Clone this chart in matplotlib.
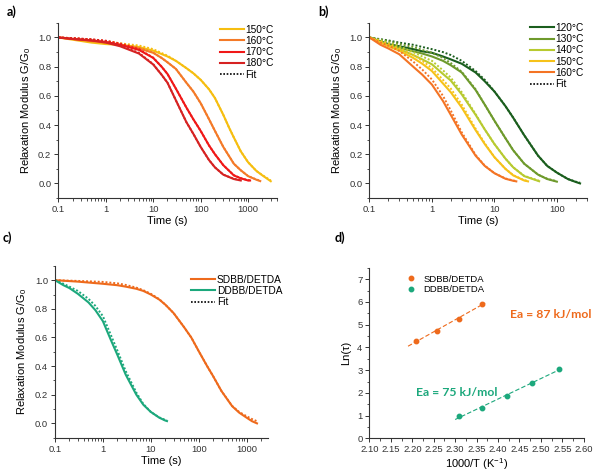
import numpy as np
import matplotlib
matplotlib.use("Agg")
import matplotlib.pyplot as plt
from matplotlib.ticker import MultipleLocator, LogLocator, NullFormatter, FixedLocator, FixedFormatter

plt.rcParams['font.family'] = ['Liberation Sans', 'DejaVu Sans']

# ---- panel a: stress relaxation at 150-180 C ----
a_labels = ['150°C', '160°C', '170°C', '180°C']
a_colors = ['#F6BE10', '#F47A28', '#F01818', '#D62222']
a_t = [
    [0.1, 0.2, 0.5, 1, 2, 5, 10, 20, 30, 50, 70, 100, 150, 200, 300, 400, 500, 700, 1000, 1500, 2000, 3000],
    [0.1, 0.2, 0.5, 1, 2, 5, 10, 15, 20, 30, 50, 70, 100, 150, 200, 300, 500, 700, 1000, 1500, 1800],
    [0.1, 0.2, 0.5, 1, 2, 5, 10, 15, 20, 30, 50, 70, 100, 150, 200, 300, 500, 700, 1000, 1100],
    [0.1, 0.2, 0.5, 1, 2, 5, 10, 15, 20, 30, 50, 70, 100, 150, 200, 300, 500, 700],
]
a_g = [
    [1.0, 0.985, 0.965, 0.955, 0.95, 0.935, 0.91, 0.87, 0.84, 0.79, 0.755, 0.71, 0.645, 0.585, 0.47, 0.38, 0.315, 0.22, 0.145, 0.085, 0.055, 0.015],
    [1.0, 0.99, 0.975, 0.965, 0.95, 0.925, 0.895, 0.86, 0.83, 0.785, 0.69, 0.63, 0.55, 0.44, 0.36, 0.25, 0.135, 0.09, 0.05, 0.025, 0.016],
    [1.0, 0.99, 0.98, 0.97, 0.95, 0.915, 0.86, 0.80, 0.75, 0.65, 0.52, 0.44, 0.36, 0.26, 0.20, 0.125, 0.055, 0.035, 0.02, 0.02],
    [1.0, 0.99, 0.98, 0.965, 0.94, 0.89, 0.815, 0.745, 0.69, 0.57, 0.42, 0.34, 0.25, 0.16, 0.11, 0.06, 0.03, 0.02],
]
a_fit = [
    [1.0, 0.995, 0.985, 0.975, 0.96, 0.945, 0.92, 0.875, 0.84, 0.79, 0.755, 0.71, 0.645, 0.585, 0.47, 0.38, 0.315, 0.22, 0.145, 0.085, 0.057, 0.02],
    [1.0, 0.995, 0.985, 0.975, 0.96, 0.93, 0.897, 0.86, 0.83, 0.785, 0.69, 0.63, 0.55, 0.44, 0.36, 0.25, 0.135, 0.09, 0.05, 0.027, 0.018],
    [1.0, 0.995, 0.987, 0.978, 0.958, 0.92, 0.862, 0.80, 0.75, 0.65, 0.52, 0.44, 0.36, 0.26, 0.20, 0.125, 0.056, 0.036, 0.022, 0.022],
    [1.0, 0.995, 0.987, 0.975, 0.948, 0.895, 0.817, 0.745, 0.69, 0.57, 0.42, 0.34, 0.25, 0.16, 0.11, 0.06, 0.032, 0.022],
]

# ---- panel b: stress relaxation at 120-160 C ----
b_labels = ['120°C', '130°C', '140°C', '150°C', '160°C']
b_colors = ['#1B5E1E', '#6E9A2C', '#B8CA30', '#F6C21A', '#F47424']
b_t = [
    [0.1, 0.2, 0.3, 0.5, 0.7, 1, 1.5, 2, 3, 5, 7, 10, 15, 20, 30, 50, 70, 100, 150, 200, 235],
    [0.1, 0.2, 0.3, 0.5, 0.7, 1, 1.5, 2, 3, 5, 7, 10, 15, 20, 30, 50, 70, 100],
    [0.1, 0.2, 0.3, 0.5, 0.7, 1, 1.5, 2, 3, 5, 7, 10, 15, 20, 30, 52],
    [0.1, 0.2, 0.3, 0.5, 0.7, 1, 1.5, 2, 3, 5, 7, 10, 15, 20, 30, 34.5],
    [0.1, 0.15, 0.2, 0.3, 0.5, 0.7, 1, 1.5, 2, 3, 5, 7, 10, 15, 20, 22.4],
]
b_g = [
    [1.0, 0.955, 0.94, 0.92, 0.905, 0.895, 0.87, 0.85, 0.82, 0.76, 0.70, 0.63, 0.53, 0.45, 0.33, 0.19, 0.12, 0.074, 0.03, 0.01, 0.0],
    [1.0, 0.95, 0.93, 0.905, 0.89, 0.87, 0.84, 0.81, 0.76, 0.64, 0.54, 0.43, 0.31, 0.227, 0.135, 0.06, 0.03, 0.012],
    [1.0, 0.945, 0.92, 0.88, 0.85, 0.816, 0.75, 0.705, 0.61, 0.47, 0.37, 0.27, 0.17, 0.11, 0.05, 0.015],
    [1.0, 0.94, 0.91, 0.86, 0.82, 0.77, 0.685, 0.625, 0.52, 0.365, 0.27, 0.18, 0.10, 0.055, 0.02, 0.014],
    [1.0, 0.95, 0.925, 0.885, 0.80, 0.745, 0.677, 0.565, 0.47, 0.335, 0.19, 0.12, 0.07, 0.032, 0.018, 0.014],
]
b_fit = [
    [1.0, 0.98, 0.965, 0.95, 0.935, 0.92, 0.90, 0.88, 0.84, 0.77, 0.71, 0.63, 0.53, 0.45, 0.33, 0.19, 0.12, 0.074, 0.03, 0.012, 0.005],
    [1.0, 0.975, 0.955, 0.935, 0.915, 0.895, 0.86, 0.825, 0.765, 0.645, 0.54, 0.43, 0.31, 0.227, 0.135, 0.06, 0.032, 0.015],
    [1.0, 0.965, 0.94, 0.90, 0.87, 0.84, 0.775, 0.725, 0.625, 0.475, 0.37, 0.27, 0.17, 0.11, 0.052, 0.018],
    [1.0, 0.955, 0.925, 0.88, 0.84, 0.79, 0.71, 0.65, 0.54, 0.375, 0.275, 0.18, 0.10, 0.057, 0.022, 0.018],
    [1.0, 0.965, 0.945, 0.908, 0.835, 0.78, 0.712, 0.60, 0.50, 0.35, 0.195, 0.122, 0.07, 0.034, 0.02, 0.016],
]

# ---- panel c: SDBB vs DDBB ----
c_labels = ['SDBB/DETDA', 'DDBB/DETDA']
c_colors = ['#EE6A1C', '#1CA87C']
c_t = [
    [0.1, 0.3, 1, 2, 3, 5, 7, 10, 15, 20, 30, 50, 70, 100, 150, 200, 300, 500, 700, 1000, 1300, 1650],
    [0.1, 0.15, 0.2, 0.3, 0.5, 0.7, 1, 1.5, 2, 3, 5, 7, 10, 15, 20, 21.8],
]
c_g = [
    [1.0, 0.99, 0.975, 0.965, 0.955, 0.94, 0.925, 0.90, 0.865, 0.83, 0.77, 0.67, 0.60, 0.505, 0.40, 0.33, 0.225, 0.12, 0.075, 0.04, 0.015, 0.0],
    [1.0, 0.965, 0.945, 0.905, 0.845, 0.79, 0.714, 0.575, 0.48, 0.34, 0.20, 0.13, 0.08, 0.04, 0.02, 0.016],
]
c_fit = [
    [1.0, 0.995, 0.988, 0.978, 0.967, 0.948, 0.93, 0.905, 0.868, 0.83, 0.77, 0.67, 0.60, 0.505, 0.40, 0.33, 0.225, 0.122, 0.08, 0.05, 0.03, 0.015],
    [1.0, 0.975, 0.955, 0.925, 0.87, 0.82, 0.749, 0.61, 0.51, 0.365, 0.215, 0.135, 0.08, 0.042, 0.024, 0.02],
]

# ---- panel d: Arrhenius ----
d_x = [[2.208, 2.257, 2.309, 2.363], [2.309, 2.363, 2.42, 2.48, 2.543]]
d_y = [[4.28, 4.73, 5.27, 5.92], [0.975, 1.35, 1.86, 2.42, 3.07]]
d_fit_range = [[2.19, 2.37], [2.30, 2.55]]
d_text = ['Ea = 87 kJ/mol', 'Ea = 75 kJ/mol']

fig = plt.figure(figsize=(5.95, 4.72), dpi=100)
ax_a = fig.add_axes([0.098, 0.5805, 0.367, 0.371])
ax_b = fig.add_axes([0.621, 0.5805, 0.365, 0.371])
ax_c = fig.add_axes([0.0924, 0.0727, 0.358, 0.364])
ax_d = fig.add_axes([0.621, 0.0714, 0.360, 0.361])


def style_axes(ax):
    for s in ['top', 'right']:
        ax.spines[s].set_visible(False)
    for s in ['left', 'bottom']:
        ax.spines[s].set_linewidth(0.8)
        ax.spines[s].set_color('#333333')
    ax.tick_params(which='both', direction='out', labelsize=6.8, colors='#333333', pad=2)
    ax.tick_params(which='major', length=3, width=0.7)
    ax.tick_params(which='minor', length=1.8, width=0.6)


def relax_axes(ax, xmax, xticks):
    ax.set_xscale('log')
    ax.set_xlim(0.1, xmax)
    ax.set_ylim(-0.1, 1.1)
    ax.xaxis.set_major_locator(FixedLocator(xticks))
    ax.xaxis.set_major_formatter(FixedFormatter([('%g' % v) for v in xticks]))
    ax.xaxis.set_minor_locator(LogLocator(base=10, subs=np.arange(2, 10)))
    ax.xaxis.set_minor_formatter(NullFormatter())
    ax.yaxis.set_major_locator(FixedLocator([0, 0.2, 0.4, 0.6, 0.8, 1.0]))
    ax.yaxis.set_major_formatter(FixedFormatter(['0.0', '0.2', '0.4', '0.6', '0.8', '1.0']))
    ax.yaxis.set_minor_locator(MultipleLocator(0.1))
    ax.set_xlabel('Time (s)', fontsize=8, labelpad=1.5)
    ax.set_ylabel('Relaxation Modulus G/G$_\\mathregular{0}$', fontsize=8, labelpad=4)
    style_axes(ax)


def relax_panel(ax, ts, gs, fits, colors, labels, anchor):
    for t, g, f, c, lab in zip(ts, gs, fits, colors, labels):
        ax.plot(t, g, color=c, lw=1.5, label=lab)
        ax.plot(t, f, color=c, lw=1.4, ls=(0, (1, 1)))
    ax.plot([], [], color='k', lw=1.2, ls=(0, (1, 1)), label='Fit')
    ax.legend(loc='upper right', bbox_to_anchor=anchor, frameon=False, fontsize=7.3,
              handlelength=2.3, handletextpad=0.2, labelspacing=0.12, borderpad=0.2)


relax_panel(ax_a, a_t, a_g, a_fit, a_colors, a_labels, (1.02, 1.03))
relax_axes(ax_a, 4000, [0.1, 1, 10, 100, 1000])

relax_panel(ax_b, b_t, b_g, b_fit, b_colors, b_labels, (1.02, 1.04))
relax_axes(ax_b, 300, [0.1, 1, 10, 100])

relax_panel(ax_c, c_t, c_g, c_fit, c_colors, c_labels, (1.1, 0.99))
relax_axes(ax_c, 2800, [0.1, 1, 10, 100, 1000])

# Arrhenius plot
for x, y, c, lab, rng in zip(d_x, d_y, c_colors, c_labels, d_fit_range):
    ax_d.plot(x, y, 'o', color=c, ms=3.2, label=lab)
    k, b = np.polyfit(x, y, 1)
    xr = np.array(rng)
    ax_d.plot(xr, k * xr + b, color=c, lw=0.8, ls=(0, (4, 2)))
ax_d.set_xlim(2.10, 2.60)
ax_d.set_ylim(0, 7.5)
ax_d.xaxis.set_major_locator(MultipleLocator(0.05))
ax_d.xaxis.set_major_formatter(plt.FuncFormatter(lambda v, p: '%.2f' % v))
ax_d.xaxis.set_minor_locator(MultipleLocator(0.025))
ax_d.yaxis.set_major_locator(MultipleLocator(1))
ax_d.yaxis.set_minor_locator(MultipleLocator(0.5))
ax_d.set_xlabel('1000/T (K$^\\mathregular{-1}$)', fontsize=8, labelpad=1.5)
ax_d.set_ylabel('Ln(\u03c4)', fontsize=8, labelpad=4)
style_axes(ax_d)
ax_d.legend(loc='upper left', bbox_to_anchor=(0.12, 1.0), frameon=False, fontsize=6.8,
            handletextpad=0.3, labelspacing=0.15, borderpad=0.2)
fig.text(0.857, 0.327, d_text[0], color=c_colors[0], fontsize=8.8, fontweight='bold',
         family=['Lato', 'DejaVu Sans'])
fig.text(0.700, 0.162, d_text[1], color=c_colors[1], fontsize=8.8, fontweight='bold',
         family=['Lato', 'DejaVu Sans'])

# panel letters
for lab, x, y in [('a)', 0.012, 0.966), ('b)', 0.535, 0.966), ('c)', 0.005, 0.487), ('d)', 0.562, 0.487)]:
    fig.text(x, y, lab, fontsize=9, fontweight='bold', family=['Lato', 'DejaVu Sans'])

fig.savefig('out.png', dpi=100)
